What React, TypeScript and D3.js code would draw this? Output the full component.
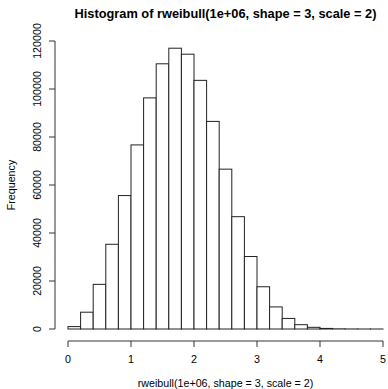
import * as d3 from "d3";

// bin edges (width 0.2) and counts
const BREAKS = d3.range(0, 5.0001, 0.2).map((v) => +v.toFixed(1));
const COUNTS = [
  1000, 7000, 18600, 35300, 55600, 76700, 96300, 110500, 117000, 114500,
  103600, 86500, 66600, 46800, 30200, 17600, 9200, 4400, 1800, 700, 240, 70,
  20, 4, 1,
];
const X_TICKS = [0, 1, 2, 3, 4, 5];
const Y_TICKS = [0, 20000, 40000, 60000, 80000, 100000, 120000];

const TITLE = "Histogram of rweibull(1e+06, shape = 3, scale = 2)";
const X_LABEL = "rweibull(1e+06, shape = 3, scale = 2)";
const Y_LABEL = "Frequency";

export default function App() {
  const width = 388;
  const height = 389;
  const FONT = "'Liberation Sans', Arial, Helvetica, sans-serif";
  const FS = 10.7;

  const xScale = d3.scaleLinear().domain([0, 5]).range([68, 383]);
  const yScale = d3.scaleLinear().domain([0, 120000]).range([329, 41]);

  const axisY = 341; // x axis line
  const axisX = 55; // y axis line

  const bars = COUNTS.map((c, i) => {
    const x0 = xScale(BREAKS[i]);
    const x1 = xScale(BREAKS[i + 1]);
    const y = yScale(c);
    return (
      <rect
        key={i}
        x={x0}
        y={y}
        width={x1 - x0}
        height={yScale(0) - y}
        fill="white"
        stroke="#222"
        strokeWidth={1}
      />
    );
  });

  return (
    <svg
      width={width}
      height={height}
      style={{ position: "absolute", left: 0, top: 0, background: "white" }}
    >
      <text
        x={(xScale(0) + xScale(5)) / 2}
        y={17.5}
        textAnchor="middle"
        fontFamily={FONT}
        fontWeight="bold"
        fontSize={12.8}
        fill="#000"
      >
        {TITLE}
      </text>

      {bars}

      {/* x axis */}
      <g stroke="#333" strokeWidth={1}>
        <line x1={xScale(0)} x2={xScale(5)} y1={axisY} y2={axisY} />
        {X_TICKS.map((t) => (
          <line key={t} x1={xScale(t)} x2={xScale(t)} y1={axisY} y2={axisY + 6} />
        ))}
      </g>
      {X_TICKS.map((t) => (
        <text
          key={t}
          x={xScale(t)}
          y={363}
          textAnchor="middle"
          fontFamily={FONT}
          fontSize={FS}
          fill="#000"
        >
          {t}
        </text>
      ))}
      <text
        x={(xScale(0) + xScale(5)) / 2}
        y={387}
        textAnchor="middle"
        fontFamily={FONT}
        fontSize={FS}
        fill="#000"
      >
        {X_LABEL}
      </text>

      {/* y axis */}
      <g stroke="#333" strokeWidth={1}>
        <line x1={axisX} x2={axisX} y1={yScale(0)} y2={yScale(120000)} />
        {Y_TICKS.map((t) => (
          <line key={t} x1={axisX - 6} x2={axisX} y1={yScale(t)} y2={yScale(t)} />
        ))}
      </g>
      {Y_TICKS.map((t) => (
        <text
          key={t}
          transform={`translate(${41},${yScale(t)}) rotate(-90)`}
          textAnchor="middle"
          fontFamily={FONT}
          fontSize={FS}
          fill="#000"
        >
          {t}
        </text>
      ))}
      <text
        transform={`translate(${14.5},${(yScale(0) + yScale(120000)) / 2}) rotate(-90)`}
        textAnchor="middle"
        fontFamily={FONT}
        fontSize={FS}
        fill="#000"
      >
        {Y_LABEL}
      </text>
    </svg>
  );
}
